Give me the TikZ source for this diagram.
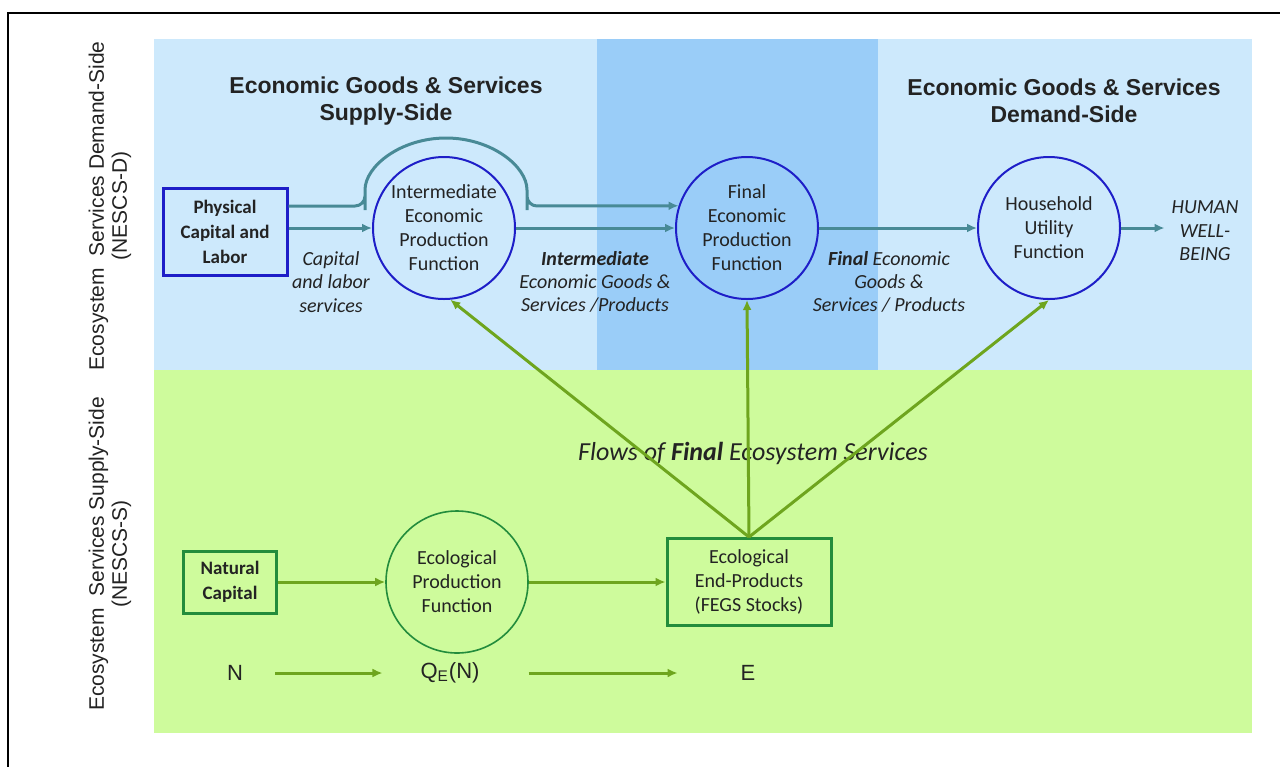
\documentclass[tikz,border=0pt]{standalone}
\usepackage{fontspec}
\setmainfont{Carlito}
\newfontfamily\arialfont{Liberation Sans}
\usetikzlibrary{arrows.meta}
\definecolor{skyblue}{RGB}{205,233,252}
\definecolor{bandblue}{RGB}{154,205,248}
\definecolor{leafgreen}{RGB}{206,251,156}
\definecolor{flowteal}{RGB}{72,138,150}
\definecolor{ringblue}{RGB}{30,30,200}
\definecolor{boxgreen}{RGB}{35,140,60}
\definecolor{fegsgreen}{RGB}{110,165,30}
\definecolor{inkgray}{RGB}{35,35,35}

\begin{document}
\begin{tikzpicture}
  [x=0.5pt,y=-0.5pt,
  title/.style={font=\arialfont\bfseries\fontsize{11.5}{13.5}\selectfont,
                  align=center,text=inkgray},
  sidelabel/.style={font=\arialfont\fontsize{10.5}{11.5}\selectfont,
                  align=center,rotate=90,text=inkgray},
  econbox/.style={rectangle,draw=ringblue,line width=1.5pt,align=center,
                  font=\bfseries\fontsize{9.5}{12.5}\selectfont,text=inkgray,
                  minimum width=62pt,minimum height=43.5pt,inner sep=0pt},
  econfn/.style={circle,draw=ringblue,line width=1pt,align=center,
                  font=\fontsize{10}{12}\selectfont,text=inkgray,
                  minimum size=71pt,inner sep=0pt},
  natbox/.style={rectangle,draw=boxgreen,line width=1.5pt,align=center,
                  font=\bfseries\fontsize{9.5}{12.5}\selectfont,text=inkgray,
                  minimum width=46.5pt,minimum height=31pt,inner sep=0pt},
  ecofn/.style={circle,draw=boxgreen,line width=0.8pt,align=center,
                  font=\fontsize{10}{12}\selectfont,text=inkgray,
                  minimum size=71pt,inner sep=0pt},
  endbox/.style={rectangle,draw=boxgreen,line width=1.5pt,align=center,
                  font=\fontsize{10}{12}\selectfont,text=inkgray,
                  minimum width=82pt,minimum height=43.5pt,inner sep=0pt},
  flowlabel/.style={align=center,font=\itshape\fontsize{10}{11.7}\selectfont,
                  text=inkgray},
  sym/.style={font=\arialfont\fontsize{11}{13}\selectfont,text=inkgray},
  flow/.style={draw=flowteal,line width=1.5pt,-{Latex[length=5pt,width=4.5pt]}},
  fegs/.style={draw=fegsgreen,line width=1.5pt,-{Latex[length=5pt,width=4.5pt]}}
                  ]
  \useasboundingbox (0,0) rectangle (1280,767);
  \fill[white] (0,0) rectangle (1280,767);

  % panels
  \fill[skyblue] (154,39) rectangle (1252,370);
  \fill[bandblue] (597,39) rectangle (878,370);
  \fill[leafgreen] (154,370) rectangle (1252,733);
  \draw[line width=1pt] (1280,13) -- (8,13) -- (8,767);

  \node[sidelabel] (demandlab) at (110,206)
    {Ecosystem\ \ Services Demand-Side\\(NESCS-D)};
  \node[sidelabel] (supplylab) at (110,554)
    {Ecosystem\ \ Services Supply-Side\\(NESCS-S)};
  \node[title] (supplytitle) at (386,101) {Economic Goods \& Services\\Supply-Side};
  \node[title] (demandtitle) at (1064,101) {Economic Goods \& Services\\Demand-Side};

  % economy row
  \node[econbox] (phys) at (225,232) {Physical\\Capital and\\Labor};
  \node[econfn] (inter) at (444,228) {Intermediate\\Economic\\Production\\Function};
  \node[econfn] (final) at (747,228) {Final\\Economic\\Production\\Function};
  \node[econfn] (house) at (1049,228) {Household\\Utility\\Function};
  \node[flowlabel] (human) at (1205,231) {HUMAN\\WELL-\\BEING};
  \node[flowlabel] (caplab) at (331,282) {Capital\\and labor\\services};
  \node[flowlabel] (interlab) at (595,282)
    {\textbf{Intermediate}\\Economic Goods \&\\Services /Products};
  \node[flowlabel] (finallab) at (889,282)
    {\textbf{Final} Economic\\Goods \&\\Services / Products};
  \coordinate (hop) at (365,206);

  % ecosystem row
  \node[natbox] (natural) at (230,582) {Natural\\Capital};
  \node[ecofn] (epf) at (457,582) {Ecological\\Production\\Function};
  \node[endbox] (endprod) at (749,582) {Ecological\\End-Products\\(FEGS Stocks)};
  \node[sym] (nsym) at (235,673) {N};
  \node[sym] (qsym) at (450,673) {Q\textsubscript{E}(N)};
  \node[sym] (esym) at (748,673) {E};
  \node[flowlabel,font=\itshape\fontsize{13}{15}\selectfont] (flowsof) at (753,453)
    {Flows of \textbf{Final} Ecosystem Services};

  \draw[flow,rounded corners=5pt] (phys.east |- hop) -- (hop) -- ++(0,-6)
    arc[start angle=180,end angle=360,x radius=81,y radius=62] -- ++(0,6) -- (final.162);
  \draw[flow] (phys.east |- inter.west) to (inter.west);
  \draw[flow] (inter.east) to (final.west);
  \draw[flow] (final.east) to (house.west);
  \draw[flow] (house.east) to (human.west |- house.east);

  \draw[fegs] (natural.east) to (epf.west);
  \draw[fegs] (epf.east) to (endprod.west);
  \draw[fegs,shorten <=12.5pt,shorten >=15.5pt] (nsym.east) to (qsym.west);
  \draw[fegs,shorten <=21pt,shorten >=28pt] (qsym.east) to (esym.west);
  \draw[fegs] (endprod.north) to (inter.-85);
  \draw[fegs] (endprod.north) to (final.south);
  \draw[fegs] (endprod.north) to (house.south);
\end{tikzpicture}
\end{document}
